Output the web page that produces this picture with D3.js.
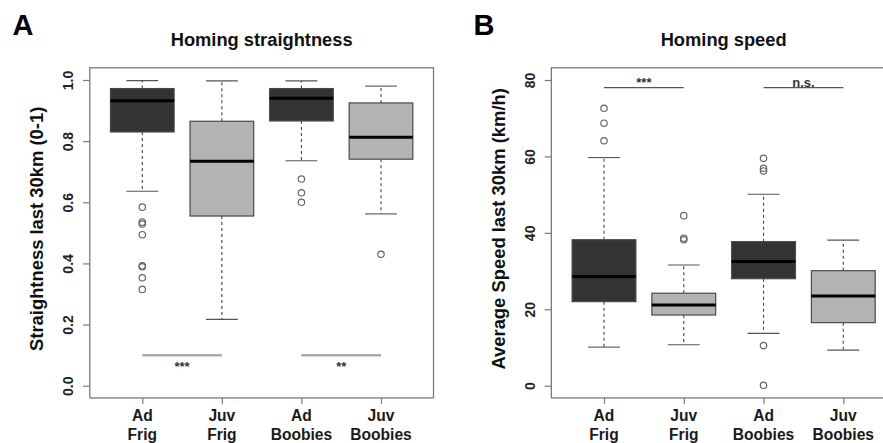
<!DOCTYPE html>
<html>
<head>
<meta charset="utf-8">
<script src="https://cdn.jsdelivr.net/npm/d3@7"></script>
<style>
  html, body { margin: 0; padding: 0; background: #fff; }
  svg { display: block; font-family: "Liberation Sans", Arial, sans-serif; }
</style>
</head>
<body>
<svg id="chart" width="883" height="443"></svg>
<script>
// ---------------- data ----------------
const categories = ["Ad Frig", "Juv Frig", "Ad Boobies", "Juv Boobies"];
const groupType = ["adult", "juvenile", "adult", "juvenile"];

// [lower whisker, Q1, median, Q3, upper whisker]
const straightStats = [
  [0.636, 0.830, 0.932, 0.972, 0.998],
  [0.217, 0.555, 0.734, 0.865, 0.997],
  [0.736, 0.866, 0.940, 0.972, 0.997],
  [0.562, 0.741, 0.813, 0.925, 0.980]
];
const straightOutliers = [
  [0.584, 0.535, 0.529, 0.494, 0.392, 0.389, 0.353, 0.315],
  [],
  [0.676, 0.631, 0.600],
  [0.430]
];
const straightTicks = [0, 0.2, 0.4, 0.6, 0.8, 1.0];
const straightSig = [
  { from: 0, to: 1, value: 0.1, label: "***" },
  { from: 2, to: 3, value: 0.1, label: "**" }
];

const speedStats = [
  [10.1, 22.0, 28.6, 38.2, 59.7],
  [10.7, 18.5, 21.1, 24.2, 31.6],
  [13.7, 28.0, 32.5, 37.7, 50.1],
  [9.3, 16.5, 23.5, 30.1, 38.1]
];
const speedOutliers = [
  [72.6, 68.7, 64.1],
  [44.5, 38.6, 38.2],
  [59.5, 56.9, 56.2, 10.5, 0.1],
  []
];
const speedTicks = [0, 20, 40, 60, 80];
const speedSig = [
  { from: 0, to: 1, value: 78, label: "***" },
  { from: 2, to: 3, value: 78, label: "n.s." }
];

// ---------------- layout ----------------
const svg = d3.select("#chart");
const fill = { adult: "#333333", juvenile: "#b3b3b3" };

const panels = [
  {
    letter: "A", letterX: 23, title: "Homing straightness",
    ylabel: "Straightness last 30km (0-1)", ylabelX: 42.5,
    xRange: [142.3, 381], yDomain: [0, 1], yMax: 1,
    stats: straightStats, outliers: straightOutliers, ticks: straightTicks,
    tickFormat: d3.format(".1f"), sig: straightSig, sigBelow: true,
    sigColor: "#aaaaaa", sigWidth: 2.5
  },
  {
    letter: "B", letterX: 484, title: "Homing speed",
    ylabel: "Average Speed last 30km (km/h)", ylabelX: 505,
    xRange: [604, 843.3], yDomain: [0, 80], yMax: 80,
    stats: speedStats, outliers: speedOutliers, ticks: speedTicks,
    tickFormat: d3.format("d"), sig: speedSig, sigBelow: false,
    sigColor: "#555555", sigWidth: 1.4
  }
];

panels.forEach(p => {
  const g = svg.append("g");
  const x = d3.scaleLinear().domain([1, 4]).range(p.xRange);
  const y = d3.scaleLinear().domain(p.yDomain).range([385.7, 80]);
  const unit = x(2) - x(1);
  const boxW = 0.8 * unit;
  const capW = 0.4 * unit;
  const ext = 0.04 * p.yMax;

  // frame
  const fx0 = x(0.34), fx1 = x(4.66), fy0 = y(p.yMax + ext), fy1 = y(-ext);
  g.append("rect")
    .attr("x", fx0).attr("y", fy0)
    .attr("width", fx1 - fx0).attr("height", fy1 - fy0)
    .attr("fill", "none").attr("stroke", "#7a7a7a").attr("stroke-width", 1.3);

  // y axis
  const yAxis = d3.axisLeft(y).tickValues(p.ticks).tickFormat(p.tickFormat)
    .tickSize(6.7).tickSizeOuter(0);
  const ya = g.append("g").attr("transform", `translate(${fx0},0)`).call(yAxis);
  ya.select(".domain").remove();
  ya.selectAll(".tick line").attr("stroke", "#7a7a7a").attr("stroke-width", 1.2);
  ya.selectAll(".tick text")
    .attr("x", 0).attr("y", 0).attr("dy", 0)
    .attr("transform", "translate(-16.5,0) rotate(-90)")
    .attr("text-anchor", "middle")
    .attr("font-size", 14).attr("font-weight", "bold")
    .attr("font-family", "Liberation Sans, Arial, sans-serif")
    .attr("fill", "#222");

  // x axis
  const xAxis = d3.axisBottom(x).tickValues([1, 2, 3, 4]).tickFormat("")
    .tickSize(6).tickSizeOuter(0);
  const xa = g.append("g").attr("transform", `translate(0,${fy1})`).call(xAxis);
  xa.select(".domain").remove();
  xa.selectAll(".tick line").attr("stroke", "#7a7a7a").attr("stroke-width", 1.2);
  categories.forEach((c, i) => {
    const parts = c.split(" ");
    const t = g.append("text")
      .attr("text-anchor", "middle")
      .attr("font-size", 15.6).attr("font-weight", "bold").attr("fill", "#1a1a1a");
    parts.forEach((s, k) => {
      t.append("tspan").attr("x", x(i + 1)).attr("y", 421 + k * 18.5).text(s);
    });
  });

  // boxes
  p.stats.forEach((s, i) => {
    const cx = x(i + 1);
    const [lo, q1, med, q3, hi] = s;
    // whiskers
    g.append("line").attr("x1", cx).attr("x2", cx).attr("y1", y(q3)).attr("y2", y(hi))
      .attr("stroke", "#444").attr("stroke-width", 1.1).attr("stroke-dasharray", "3,3");
    g.append("line").attr("x1", cx).attr("x2", cx).attr("y1", y(q1)).attr("y2", y(lo))
      .attr("stroke", "#444").attr("stroke-width", 1.1).attr("stroke-dasharray", "3,3");
    // caps
    [lo, hi].forEach(v => {
      g.append("line").attr("x1", cx - capW / 2).attr("x2", cx + capW / 2)
        .attr("y1", y(v)).attr("y2", y(v))
        .attr("stroke", "#555").attr("stroke-width", 1.1);
    });
    // box
    g.append("rect")
      .attr("x", cx - boxW / 2).attr("y", y(q3))
      .attr("width", boxW).attr("height", y(q1) - y(q3))
      .attr("fill", fill[groupType[i]]).attr("stroke", "#4a4a4a").attr("stroke-width", 1.2);
    // median
    g.append("line").attr("x1", cx - boxW / 2).attr("x2", cx + boxW / 2)
      .attr("y1", y(med)).attr("y2", y(med))
      .attr("stroke", "#000").attr("stroke-width", 3);
    // outliers
    p.outliers[i].forEach(v => {
      g.append("circle").attr("cx", cx).attr("cy", y(v)).attr("r", 3.2)
        .attr("fill", "none").attr("stroke", "#666").attr("stroke-width", 1.2);
    });
  });

  // significance
  p.sig.forEach(s => {
    const x1 = x(s.from + 1), x2 = x(s.to + 1), yy = y(s.value);
    g.append("line").attr("x1", x1).attr("x2", x2).attr("y1", yy).attr("y2", yy)
      .attr("stroke", p.sigColor).attr("stroke-width", p.sigWidth);
    g.append("text")
      .attr("x", (x1 + x2) / 2)
      .attr("y", p.sigBelow ? yy + 16 : yy - 1)
      .attr("text-anchor", "middle")
      .attr("font-size", 13).attr("font-weight", "bold").attr("fill", "#333")
      .text(s.label);
  });

  // title
  g.append("text").attr("x", (x(1) + x(4)) / 2).attr("y", 45.5)
    .attr("text-anchor", "middle").attr("font-size", 18.3).attr("font-weight", "bold")
    .attr("fill", "#111").text(p.title);

  // y label
  g.append("text")
    .attr("transform", `translate(${p.ylabelX},${(fy0 + fy1) / 2 - 4}) rotate(-90)`)
    .attr("text-anchor", "middle").attr("font-size", 18.4).attr("font-weight", "bold")
    .attr("fill", "#111").text(p.ylabel);

  // panel letter
  g.append("text").attr("x", p.letterX).attr("y", 35)
    .attr("text-anchor", "middle").attr("font-size", 29).attr("font-weight", "bold")
    .attr("fill", "#000").text(p.letter);
});
</script>
</body>
</html>
